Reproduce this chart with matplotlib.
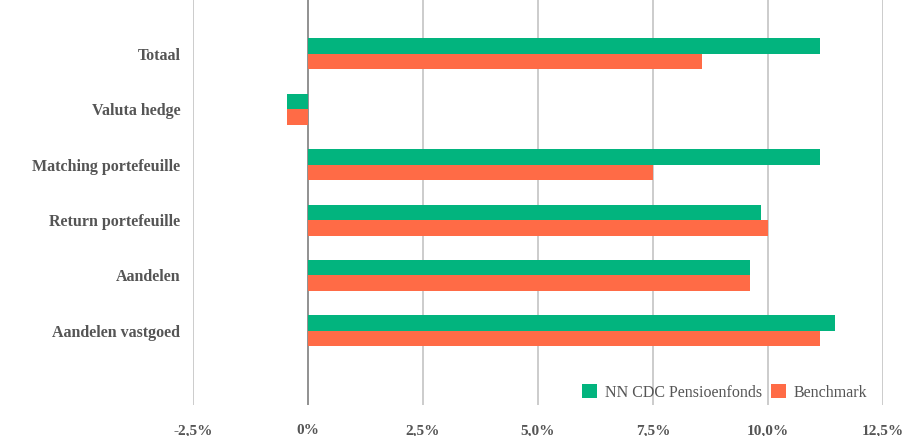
import matplotlib
matplotlib.use('Agg')
import matplotlib.pyplot as plt
import numpy as np

# data (percent)
categories = ['Totaal', 'Valuta hedge', 'Matching portefeuille',
              'Return portefeuille', 'Aandelen', 'Aandelen vastgoed']
fund = [11.13, -0.45, 11.13, 9.84, 9.61, 11.46]
benchmark = [8.57, -0.45, 7.51, 10.01, 9.61, 11.13]
ticks = [-2.5, 0, 2.5, 5.0, 7.5, 10.0, 12.5]
tick_labels = ['-2,5%', '0%', '2,5%', '5,0%', '7,5%', '10,0%', '12,5%']

green = '#02b47e'
orange = '#ff6b46'

fig = plt.figure(figsize=(9.03, 4.36), dpi=100)
ax = fig.add_axes([193 / 903, 31 / 436, 690 / 903, 405 / 436])

y = np.arange(len(categories))
h = 0.28
ax.barh(y - h / 2, fund, height=h, color=green, label='NN CDC Pensioenfonds', zorder=3)
ax.barh(y + h / 2, benchmark, height=h, color=orange, label='Benchmark', zorder=3)

ax.set_xlim(-2.5, 12.5)
ax.set_ylim(6.34, -0.975)

# gridlines
for t in ticks:
    ax.axvline(t, color='#888888' if t == 0 else '#c8c8c8', lw=1.3, zorder=1)

for s in ax.spines.values():
    s.set_visible(False)

ax.set_xticks(ticks)
ax.set_xticklabels(tick_labels, fontsize=11, fontweight='bold', color='#555555',
                   family='Liberation Serif')
ax.set_yticks(y)
ax.set_yticklabels(categories, fontsize=11.5, fontweight='bold', color='#555555',
                   family='Liberation Serif')
ax.tick_params(axis='both', length=0)
ax.tick_params(axis='y', pad=9)
ax.tick_params(axis='x', pad=14)

leg = ax.legend(loc='lower right', bbox_to_anchor=(0.998, -0.025), ncol=2, frameon=False,
                prop={'family': 'Liberation Serif', 'size': 11.5},
                handlelength=0.95, handleheight=0.95, handletextpad=0.45,
                columnspacing=0.6)
for t in leg.get_texts():
    t.set_color('#555555')

plt.savefig('out.png')
